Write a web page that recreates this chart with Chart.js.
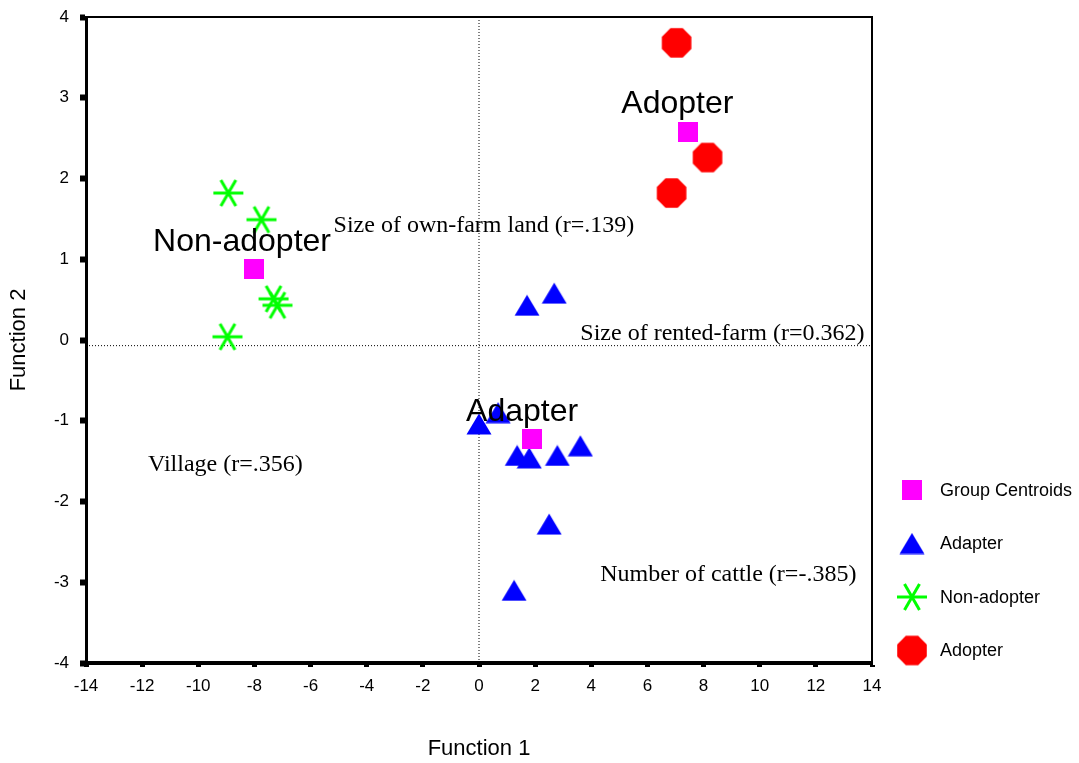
<!DOCTYPE html>
<html>
<head>
<meta charset="utf-8">
<script src="https://cdn.jsdelivr.net/npm/chart.js@4.4.0/dist/chart.umd.min.js"></script>
<style>
  body { margin: 0; background: #fff; }
  #wrap { width: 1079px; height: 763px; }
</style>
</head>
<body>
<div id="wrap"><canvas id="grafico" width="1079" height="763"></canvas></div>
<script>
// group centroids
const centroidX = [7.43, -8.0, 1.89];
const centroidY = [2.57, 0.875, -1.22];
// Adapter (triangles)
const adapterX = [1.71, 2.68, 0.0, 0.68, 1.36, 1.79, 2.79, 3.61, 2.5, 1.25];
const adapterY = [0.43, 0.58, -1.04, -0.90, -1.43, -1.46, -1.43, -1.31, -2.28, -3.1];
// Non-adopter (stars)
const nonAdopterX = [-8.93, -7.75, -7.32, -7.18, -8.96];
const nonAdopterY = [1.82, 1.49, 0.51, 0.43, 0.04];
// Adopter (octagons)
const adopterX = [7.04, 8.14, 6.86];
const adopterY = [3.68, 2.26, 1.82];

const legendLabels = ['Group Centroids', 'Adapter', 'Non-adopter', 'Adopter'];

// group names and variable correlations written on the plot
const groupNames = ['Adopter', 'Non-adopter', 'Adapter'];
const groupNameX = [5.07, -11.61, -0.46];
const groupNameY = [2.92, 1.21, -0.89];
const varNames = ['Size of own-farm land (r=.139)', 'Size of rented-farm (r=0.362)', 'Village (r=.356)', 'Number of cattle (r=-.385)'];
const varNameX = [-5.18, 3.61, -11.79, 4.32];
const varNameY = [1.41, 0.08, -1.545, -2.91];

const refLineY = -0.07;

function makeCanvas(w, h, draw) {
    const c = document.createElement('canvas');
    c.width = w;
    c.height = h;
    draw(c.getContext('2d'), w, h);
    return c;
}

const squareImg = makeCanvas(20, 20, (ctx, w, h) => {
    ctx.fillStyle = '#ff00ff';
    ctx.fillRect(0, 0, w, h);
});

const triangleImg = makeCanvas(26, 22, (ctx, w, h) => {
    ctx.fillStyle = '#0000ff';
    ctx.beginPath();
    ctx.moveTo(w / 2, 0.5);
    ctx.lineTo(w - 0.5, h - 0.5);
    ctx.lineTo(0.5, h - 0.5);
    ctx.closePath();
    ctx.fill();
});

const starImg = makeCanvas(34, 34, (ctx, w, h) => {
    ctx.strokeStyle = '#00ff00';
    ctx.lineWidth = 3;
    const r = 15;
    [0, 60, 120].forEach((deg) => {
        const a = deg * Math.PI / 180;
        ctx.beginPath();
        ctx.moveTo(w / 2 - Math.cos(a) * r, h / 2 - Math.sin(a) * r);
        ctx.lineTo(w / 2 + Math.cos(a) * r, h / 2 + Math.sin(a) * r);
        ctx.stroke();
    });
});

const octagonImg = makeCanvas(32, 32, (ctx, w, h) => {
    ctx.fillStyle = '#ff0000';
    ctx.beginPath();
    const r = 16;
    for (let i = 0; i < 8; i++) {
        const a = (22.5 + i * 45) * Math.PI / 180;
        const px = w / 2 + Math.cos(a) * r;
        const py = h / 2 + Math.sin(a) * r;
        if (i === 0) ctx.moveTo(px, py); else ctx.lineTo(px, py);
    }
    ctx.closePath();
    ctx.fill();
});

const legendImgs = [squareImg, triangleImg, starImg, octagonImg];

function toPoints(xs, ys) {
    return xs.map((x, i) => ({ x: x, y: ys[i] }));
}

const extraDraw = {
    id: 'extraDraw',
    afterDatasetsDraw(chart) {
        const ctx = chart.ctx;
        const sx = chart.scales.x;
        const sy = chart.scales.y;
        const area = chart.chartArea;
        ctx.save();
        ctx.fillStyle = '#000';
        ctx.textBaseline = 'middle';
        ctx.textAlign = 'left';
        ctx.font = '32px "Liberation Sans", Arial, sans-serif';
        groupNames.forEach((t, i) => {
            ctx.fillText(t, sx.getPixelForValue(groupNameX[i]), sy.getPixelForValue(groupNameY[i]));
        });
        ctx.font = '24px "Liberation Serif", "Times New Roman", serif';
        varNames.forEach((t, i) => {
            ctx.fillText(t, sx.getPixelForValue(varNameX[i]), sy.getPixelForValue(varNameY[i]));
        });
        // frame top / right
        ctx.strokeStyle = '#000';
        ctx.lineWidth = 2;
        ctx.beginPath();
        ctx.moveTo(area.left, area.top);
        ctx.lineTo(area.right, area.top);
        ctx.lineTo(area.right, area.bottom);
        ctx.stroke();
        ctx.restore();
    },
    afterDraw(chart) {
        // legend on the right
        const ctx = chart.ctx;
        ctx.save();
        ctx.fillStyle = '#000';
        ctx.font = '18px "Liberation Sans", Arial, sans-serif';
        ctx.textBaseline = 'middle';
        legendLabels.forEach((t, i) => {
            const cy = 490 + i * 53.5;
            const img = legendImgs[i];
            ctx.drawImage(img, 912 - img.width / 2, cy - img.height / 2);
            ctx.fillText(t, 940, cy + 1);
        });
        ctx.restore();
    }
};

new Chart(document.getElementById('grafico').getContext('2d'), {
    type: 'scatter',
    data: {
        datasets: [
            { label: 'Group Centroids', data: toPoints(centroidX, centroidY), pointStyle: squareImg },
            { label: 'Adapter', data: toPoints(adapterX, adapterY), pointStyle: triangleImg },
            { label: 'Non-adopter', data: toPoints(nonAdopterX, nonAdopterY), pointStyle: starImg },
            { label: 'Adopter', data: toPoints(adopterX, adopterY), pointStyle: octagonImg },
            {
                type: 'line', label: 'ref-v', data: [{ x: 0, y: -4 }, { x: 0, y: 4 }],
                borderColor: '#000', borderWidth: 1, borderDash: [1, 2], pointRadius: 0, fill: false
            },
            {
                type: 'line', label: 'ref-h', data: [{ x: -14, y: refLineY }, { x: 14, y: refLineY }],
                borderColor: '#000', borderWidth: 1, borderDash: [1, 2], pointRadius: 0, fill: false
            }
        ]
    },
    options: {
        responsive: false,
        animation: false,
        layout: { padding: { top: 17, right: 207, left: 0, bottom: 0 } },
        plugins: {
            legend: { display: false },
            tooltip: { enabled: false }
        },
        scales: {
            x: {
                type: 'linear',
                min: -14,
                max: 14,
                ticks: { stepSize: 2, color: '#000', padding: 9, font: { size: 17, family: '"Liberation Sans", Arial' } },
                grid: { drawOnChartArea: false, tickLength: 4, tickWidth: 5, tickColor: '#000' },
                border: { color: '#000', width: 4 },
                title: { display: true, text: 'Function 1', color: '#000', padding: { top: 4, bottom: 1 }, font: { size: 22, family: '"Liberation Sans", Arial' } },
                afterFit: (scale) => { scale.height = 100; }
            },
            y: {
                type: 'linear',
                min: -4,
                max: 4,
                ticks: { stepSize: 1, color: '#000', padding: 11, font: { size: 17, family: '"Liberation Sans", Arial' } },
                grid: { drawOnChartArea: false, tickLength: 6, tickWidth: 6, tickColor: '#000' },
                border: { color: '#000', width: 3 },
                title: { display: true, text: 'Function 2', color: '#000', padding: { top: 6, bottom: 4 }, font: { size: 22, family: '"Liberation Sans", Arial' } },
                afterFit: (scale) => {
                    scale.width = 86;
                    scale.paddingTop = 0;
                    scale.paddingBottom = 0;
                }
            }
        }
    },
    plugins: [extraDraw]
});
</script>
</body>
</html>
